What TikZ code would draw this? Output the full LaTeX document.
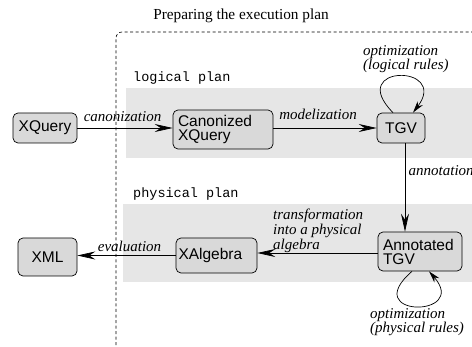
\documentclass[tikz,border=0pt]{standalone}
\usepackage{fontspec}
\setmainfont{Liberation Serif}
\setsansfont{Liberation Sans}
\setmonofont{Liberation Mono}
\usetikzlibrary{arrows.meta}
\definecolor{nodegray}{HTML}{D9D9D9}
\definecolor{bandgray}{HTML}{E6E6E6}
\begin{document}
\begin{tikzpicture}[x=1pt,y=1pt,
  box/.style={draw, line width=0.7pt, rounded corners=5pt, fill=nodegray,
    font=\sffamily\fontsize{15.5}{14}\selectfont, inner sep=0pt},
  lbl/.style={font=\itshape\fontsize{15}{13.5}\selectfont, inner sep=0pt},
  mono/.style={font=\ttfamily\fontsize{13.5}{14}\selectfont, inner sep=0pt},
  arr/.style={line width=0.7pt, -{Stealth[length=18pt,width=8pt,inset=6pt]}},
  loopa/.style={line width=0.7pt, -{Stealth[length=12pt,width=6.5pt,inset=4pt]}}]
\useasboundingbox (0,0) rectangle (472,346);
\clip (0,0) rectangle (472,346);
% bands
\fill[bandgray] (126,188) rectangle (480,258);
\fill[bandgray] (123,64) rectangle (480,142);
% dashed frame
\draw[dashed, dash pattern=on 3pt off 2.5pt, line width=0.6pt, rounded corners=6pt]
  (116,-10) -- (116,314) -- (490,314);
% title and plan labels
\node[font=\fontsize{15.3}{16}\selectfont, inner sep=0pt, anchor=base] (title) at (241,326.5) {Preparing the execution plan};
\node[mono, anchor=base west] (lp) at (133,264) {logical plan};
\node[mono, anchor=base west] (pp) at (133,148) {physical plan};
% nodes
\node[box, minimum width=64pt, minimum height=30pt] (xq) at (45,218) {XQuery};
\node[box, minimum height=39pt, text width=90pt, inner xsep=5pt, align=left] (can) at (223,216.5) {Canonized\\XQuery};
\node[box, minimum width=48pt, minimum height=30pt] (tgv) at (401,218) {TGV};
\node[box, minimum height=39pt, text width=74pt, inner xsep=5pt, align=left] (ann) at (420,94.5) {Annotated\\TGV};
\node[box, minimum height=35pt, text width=76pt, inner xsep=2.5pt, align=left] (xalg) at (216.5,90.5) {XAlgebra};
\node[box, minimum width=59pt, minimum height=38pt] (xml) at (47.5,89) {XML};
% edges
\coordinate (aw) at ([yshift=-1.5pt]ann.west);
\draw[arr] (xq.east) -- (can.west |- xq.east);
\draw[arr] (can.east |- tgv.west) -- (tgv.west);
\draw[arr] ([xshift=4pt]tgv.south) -- ([xshift=4pt]tgv.south |- ann.north);
\draw[arr] (aw) -- (xalg.east |- aw);
\draw[arr] (xalg.west) -- (xml.east |- xalg.west);
% loops
\coordinate (c1) at (345,282);
\coordinate (c2) at (450,282);
\draw[loopa] ([xshift=-8pt]tgv.north) .. controls (c1) and (c2) .. ([xshift=12pt]tgv.north);
\coordinate (c3) at (358,28);
\coordinate (c4) at (470,28);
\draw[loopa] ([xshift=-8pt]ann.south) .. controls (c3) and (c4) .. ([xshift=9pt]ann.south);
% edge labels
\node[lbl, anchor=base] (l1) at (122.5,224.5) {canonization};
\node[lbl, anchor=base] (l2) at (318,226) {modelization};
\node[lbl, anchor=base west] (l3) at (408.5,170.3) {annotation};
\node[lbl, anchor=north west, align=left] (l4) at (273,137) {transformation\\into a physical\\algebra};
\node[lbl, anchor=base] (l5) at (129.5,94.3) {evaluation};
\node[lbl, anchor=south west, align=left] (l6) at (363,273) {optimization\\(logical rules)};
\node[lbl, anchor=north west, align=left] (l7) at (370,38) {optimization\\(physical rules)};
\end{tikzpicture}
\end{document}
